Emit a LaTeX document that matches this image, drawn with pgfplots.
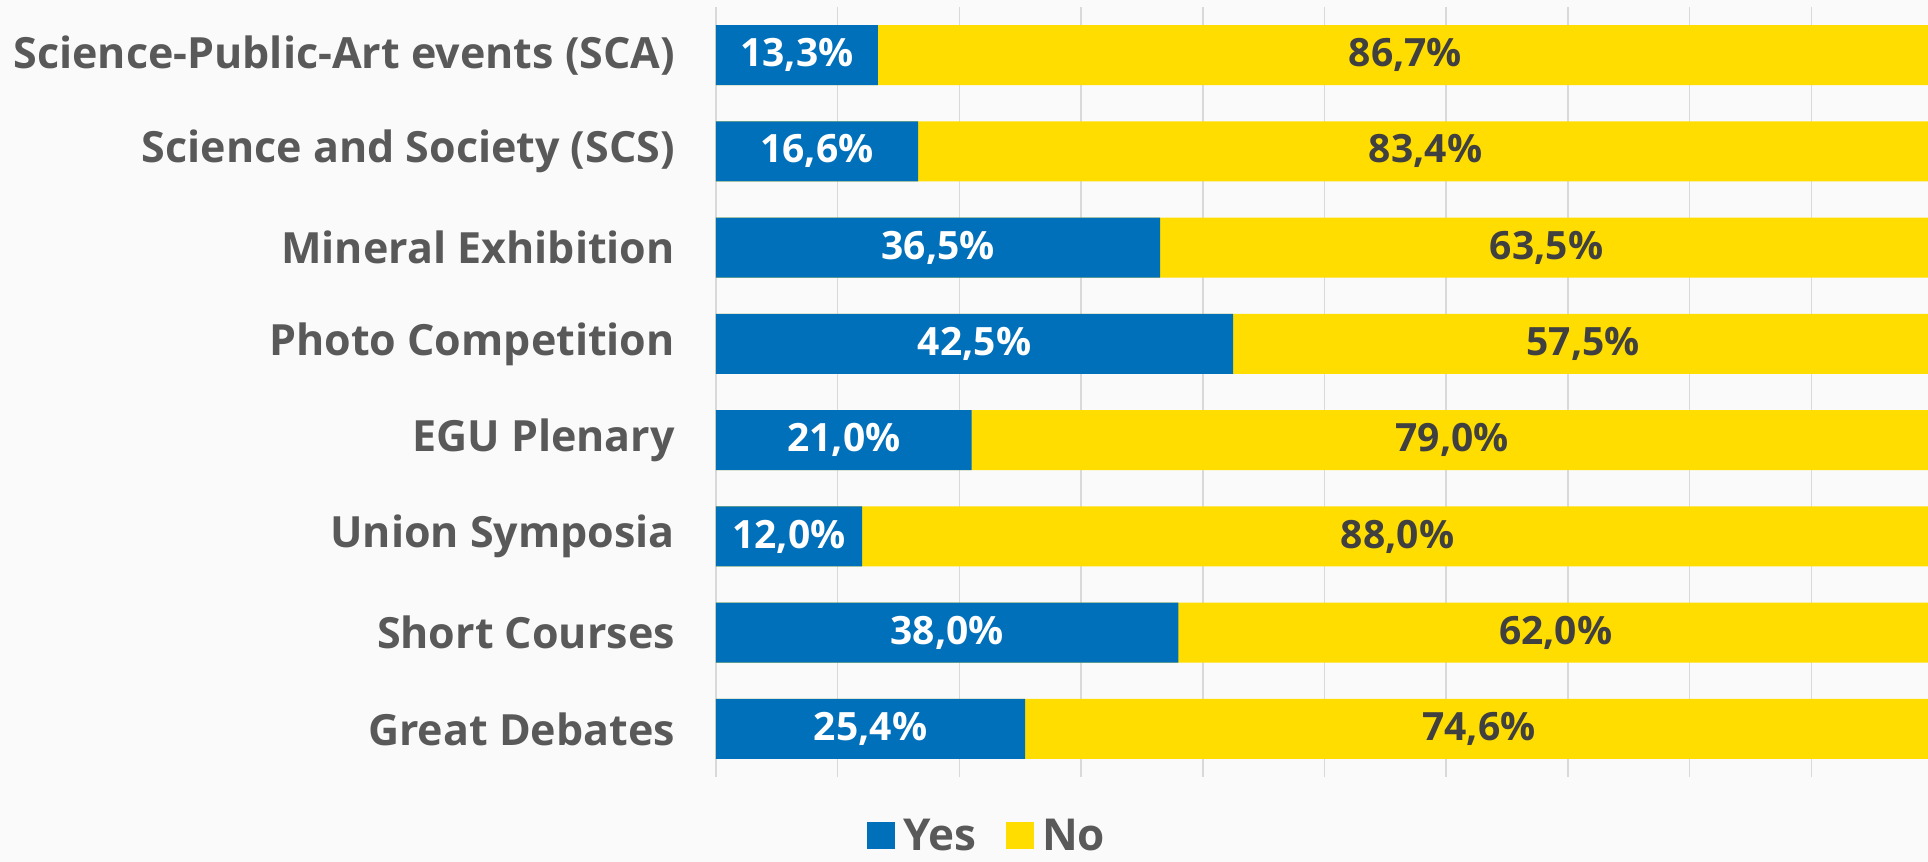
\documentclass[border=0pt]{standalone}
\usepackage{pgfplots}
\usepackage{pgfplotstable}
\pgfplotsset{compat=1.18}
\usepackage{fontspec}
\setmainfont{Open Sans}[BoldFont={Open Sans Bold}]

\definecolor{yesblue}{RGB}{0,112,186}
\definecolor{noyellow}{RGB}{255,221,0}
\definecolor{labelgray}{RGB}{89,89,89}
\definecolor{valgray}{RGB}{64,64,64}
\definecolor{gridgray}{RGB}{217,217,217}
\definecolor{bggray}{RGB}{250,250,250}

% y = row position (0 = top), values in percent
\pgfplotstableread{
y yes no
0 13.3 86.7
1 16.6 83.4
2 36.5 63.5
3 42.5 57.5
4 21.0 79.0
5 12.0 88.0
6 38.0 62.0
7 25.4 74.6
}\survey

\begin{document}
\begin{tikzpicture}
\fill[bggray] (0,0) rectangle (964pt,431pt);
\useasboundingbox (0,0) rectangle (964pt,431pt);
\begin{axis}[
    at={(358pt,42.5pt)}, anchor=south west,
    scale only axis,
    width=608.5pt, height=385pt,
    xmin=0, xmax=100,
    ymin=-0.5, ymax=7.5,
    y dir=reverse,
    xtick={0,10,...,100}, xticklabels={},
    xmajorgrids, major grid style={gridgray, line width=0.8pt},
    ytick={0,...,7},
    yticklabels={Science-Public-Art events (SCA), Science and Society (SCS),
      Mineral Exhibition, Photo Competition, EGU Plenary, Union Symposia,
      Short Courses, Great Debates},
    yticklabel style={font=\bfseries\fontsize{21.5}{26}\selectfont, text=labelgray, xshift=-17pt},
    tick style={draw=none},
    axis line style={draw=none},
    bar width=30pt,
    /pgf/number format/assume math mode=true,
    legend style={at={(0.2236,-0.077)}, anchor=center, draw=none, fill=none,
      legend columns=2, font=\bfseries\fontsize{22}{26}\selectfont, text=labelgray,
      /tikz/every even column/.append style={column sep=13pt},
      /tikz/every odd column/.append style={column sep=2pt}},
    legend image code/.code={\fill[#1] (0pt,-6.5pt) rectangle (14pt,7pt);},
    nodes near coords={\pgfmathprintnumber[fixed, fixed zerofill, precision=1, use comma]{\pgfplotspointmeta}\%},
]
\addlegendimage{fill=yesblue, draw=none}
\addlegendentry{Yes}
\addlegendimage{fill=noyellow, draw=none}
\addlegendentry{No}
% yellow "No" bars span the whole row, blue "Yes" bars drawn over them
\addplot[xbar, bar shift=0pt, fill=noyellow, draw=none, forget plot,
  nodes near coords=\relax]
  table[x expr=\thisrow{yes}+\thisrow{no}, y=y]{\survey};
\addplot[xbar, bar shift=0pt, fill=yesblue, draw=none, forget plot,
  nodes near coords=\relax]
  table[x=yes, y=y]{\survey};
% value labels in the middle of each segment
\addplot[draw=none, mark=none, forget plot, point meta=\thisrow{yes},
  every node near coord/.style={anchor=center, text=white, font=\bfseries\fontsize{19.5}{23}\selectfont}]
  table[x expr=\thisrow{yes}/2, y=y]{\survey};
\addplot[draw=none, mark=none, forget plot, point meta=\thisrow{no},
  every node near coord/.style={anchor=center, text=valgray, font=\bfseries\fontsize{19.5}{23}\selectfont}]
  table[x expr=\thisrow{yes}+\thisrow{no}/2, y=y]{\survey};
\end{axis}
\end{tikzpicture}
\end{document}
